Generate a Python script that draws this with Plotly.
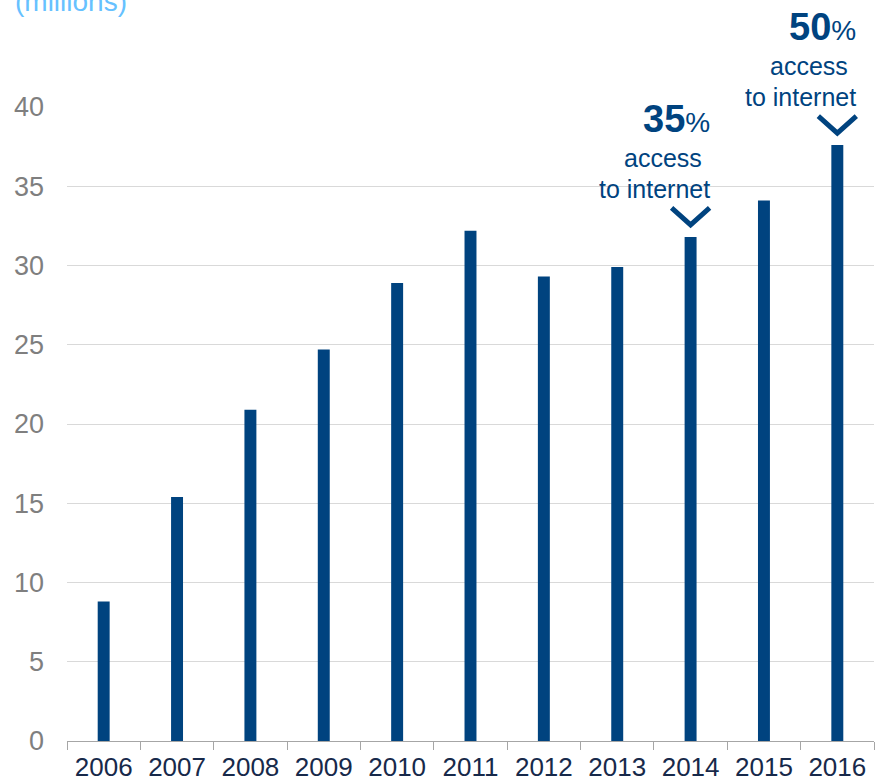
import plotly.graph_objects as go

years = ["2006", "2007", "2008", "2009", "2010", "2011",
         "2012", "2013", "2014", "2015", "2016"]
users = [8.8, 15.4, 20.9, 24.7, 28.9, 32.2, 29.3, 29.9, 31.8, 34.1, 37.6]

callout_years = ["2014", "2016"]
callout_pcts = ["35", "50"]

BAR = "#00437f"
FONT = "Liberation Sans, Arial, sans-serif"

fig = go.Figure(go.Bar(
    x=years, y=users, marker_color=BAR, marker_line_width=0,
    cliponaxis=False,
))

value_of = dict(zip(years, users))
annotations = [dict(
    text="(millions)", xref="paper", yref="paper", x=-0.067, y=1.167,
    xanchor="left", yanchor="middle", showarrow=False,
    font=dict(family=FONT, size=28, color="#66c1ff"),
)]
shapes = []
for yr, pct in zip(callout_years, callout_pcts):
    v = value_of[yr]
    idx = years.index(yr)
    lines = [
        (f"<b><span style='font-size:38px'>{pct}</span></b><span style='font-size:28px'>%</span>", 21, 118),
        ("access", 13, 79),
        ("to internet", 21, 48),
    ]
    for txt, dx, dy in lines:
        annotations.append(dict(
            text=txt, x=idx, y=v, xref="x", yref="y",
            xanchor="right", yanchor="middle", xshift=dx, yshift=dy,
            showarrow=False, font=dict(family=FONT, size=25, color=BAR),
        ))
    # chevron pointing down at the bar top
    shapes.append(dict(
        type="path", xref="x", yref="y",
        xsizemode="pixel", ysizemode="pixel", xanchor=idx, yanchor=v,
        path="M -19,29 L 0,12 L 19,29",
        line=dict(color=BAR, width=5), layer="above",
    ))

fig.update_layout(
    width=875, height=783,
    margin=dict(l=67, r=1, t=107, b=42),
    paper_bgcolor="white", plot_bgcolor="white",
    bargap=0.837, showlegend=False,
    annotations=annotations, shapes=shapes,
    xaxis=dict(
        type="category", tickson="boundaries", ticks="outside",
        range=[-0.5, len(years) - 0.5], tickangle=0, automargin=False,
        ticklen=8, tickcolor="#a6a6a6", showline=True, linecolor="#a6a6a6",
        linewidth=1, showgrid=False, ticklabelstandoff=3,
        tickfont=dict(family=FONT, size=26, color="#17294a"),
    ),
    yaxis=dict(
        range=[0, 40], dtick=5, showgrid=True, gridcolor="#d9d9d9",
        gridwidth=1, zeroline=False, showline=False, ticks="",
        automargin=False, ticklabelstandoff=22,
        tickfont=dict(family=FONT, size=27, color="#7f7f7f"),
    ),
)

fig.write_html("out.html")
